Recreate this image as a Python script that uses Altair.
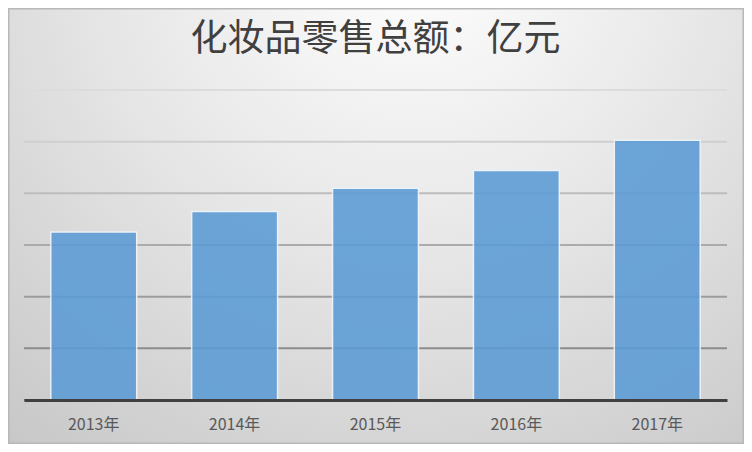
import altair as alt
import pandas as pd

years = ["2013年", "2014年", "2015年", "2016年", "2017年"]
sales = [1625, 1825, 2049, 2222, 2514]
grid_values = [0, 500, 1000, 1500, 2000, 2500, 3000]
grid_colors = ["#888888", "#8c8c8c", "#9c9c9c", "#ababab", "#bdbdbd", "#cfcfcf", "#dcdcdc"]

source = pd.DataFrame({"year": years, "sales": sales})
grid = pd.DataFrame({"value": grid_values})

W, H = 703, 310
PAD = {"left": 16, "top": 82, "right": 17, "bottom": 44}

# radial grey-to-white backdrop covering the whole canvas
backdrop = {
    "gradient": "radial",
    "x1": 0.55, "y1": 0.12, "r1": 0,
    "x2": 0.55, "y2": 0.12, "r2": 0.95,
    "stops": [
        {"offset": 0, "color": "#ffffff"},
        {"offset": 0.45, "color": "#e6e6e6"},
        {"offset": 1, "color": "#c2c2c2"},
    ],
}

bg = alt.Chart(alt.Data(values=[{}])).mark_rect(
    fill=backdrop, stroke="#b8b8b8", strokeWidth=3
).encode(
    x=alt.value(-PAD["left"]),
    x2=alt.value(W + PAD["right"]),
    y=alt.value(-PAD["top"]),
    y2=alt.value(H + PAD["bottom"]),
)

yscale = alt.Scale(domain=[0, 3000], nice=False)

rules = alt.Chart(grid).mark_rule(strokeWidth=2).encode(
    y=alt.Y("value:Q", scale=yscale, axis=None),
    color=alt.Color("value:O", scale=alt.Scale(domain=grid_values, range=grid_colors),
                    legend=None),
)

bars = alt.Chart(source).mark_bar(
    color="#5b9bd5", opacity=0.88, stroke="#eef4fa", strokeWidth=1.5
).encode(
    x=alt.X("year:N", sort=years, title=None,
            scale=alt.Scale(paddingInner=0.39, paddingOuter=0.19),
            axis=alt.Axis(labelAngle=0, labelFontSize=16, labelColor="#595959",
                          labelFont="Noto Sans CJK SC", labelPadding=16,
                          ticks=False, domainColor="#404040", domainWidth=3,
                          zindex=1)),
    y=alt.Y("sales:Q", title=None, scale=yscale, axis=None),
)

chart = alt.layer(bg, rules, bars).properties(
    width=W,
    height=H,
    autosize=alt.AutoSizeParams(type="none"),
    padding=PAD,
    title=alt.TitleParams(
        "化妆品零售总额：亿元", fontSize=37, font="Noto Sans CJK SC",
        fontWeight="normal", color="#404040", anchor="middle", offset=0, dy=52,
    ),
).configure_view(stroke=None)

chart.save("out.html", embed_options={"renderer": "svg", "actions": False})
